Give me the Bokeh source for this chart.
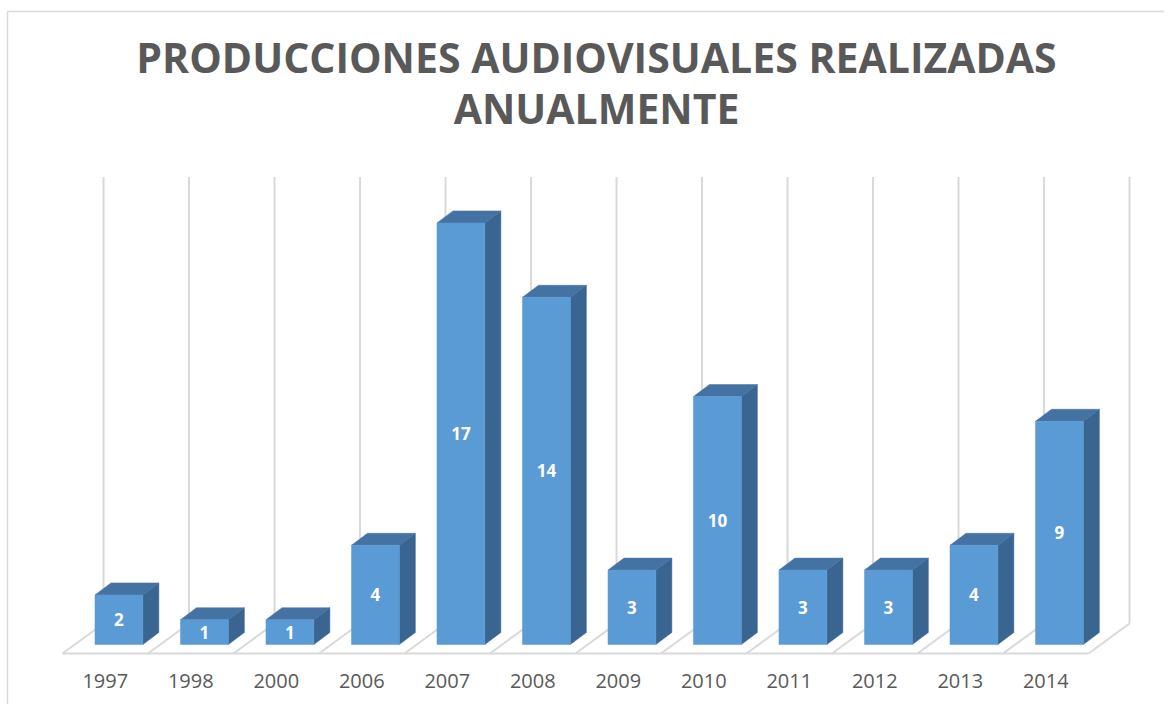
from bokeh.plotting import figure
from bokeh.models import ColumnDataSource, Label, Range1d
from bokeh.core.properties import value
from bokeh.embed import file_html
from bokeh.resources import INLINE

# ---- data ----
years = ["1997", "1998", "2000", "2006", "2007", "2008",
         "2009", "2010", "2011", "2012", "2013", "2014"]
counts = [2, 1, 1, 4, 17, 14, 3, 10, 3, 3, 4, 9]
axis_max = 18
title_lines = ["PRODUCCIONES AUDIOVISUALES REALIZADAS", "ANUALMENTE"]

# ---- 3D geometry (in data units: x = category, y = value) ----
BAR_LEFT, BAR_W = 0.38, 0.56
DX, DY = 0.187, 0.484          # bar depth offset
FDX, FDY = 0.48, 1.21          # floor depth offset
FLOOR_FRONT = -0.363
FLOOR_BACK = FLOOR_FRONT + FDY

FRONT = "#5B9BD5"
TOP = "#4472A2"
SIDE = "#3A6590"
GRID = "#D9D9D9"
TEXT = "#595959"

n = len(years)

p = figure(width=1164, height=704, output_backend="svg", toolbar_location=None,
           x_range=Range1d(-0.7251, 12.8889), y_range=Range1d(-2.419, 25.968),
           min_border=0, min_border_left=0, min_border_right=0,
           min_border_top=0, min_border_bottom=0)
p.axis.visible = False
p.grid.visible = False
p.outline_line_color = None
p.background_fill_color = "white"
p.border_fill_color = "white"

# chart border (left & top)
p.segment(x0=[-0.643, -0.643], y0=[25.52, 25.52], x1=[-0.643, 13.0], y1=[-2.5, 25.52],
          line_color=GRID, line_width=1.5)

# back wall verticals and floor lines
ks = list(range(n + 1))
p.segment(x0=[k + FDX for k in ks], y0=[FLOOR_BACK] * len(ks),
          x1=[k + FDX for k in ks], y1=[FLOOR_BACK + axis_max] * len(ks),
          line_color=GRID, line_width=2)
p.segment(x0=ks, y0=[FLOOR_FRONT] * len(ks),
          x1=[k + FDX for k in ks], y1=[FLOOR_BACK] * len(ks),
          line_color=GRID, line_width=2)
p.segment(x0=[0], y0=[FLOOR_FRONT], x1=[n], y1=[FLOOR_FRONT],
          line_color=GRID, line_width=2)

# bars
lefts = [i + BAR_LEFT for i in range(n)]
rights = [l + BAR_W for l in lefts]
src = ColumnDataSource(dict(left=lefts, right=rights, top=counts,
                            bottom=[0] * n,
                            cx=[(l + r) / 2 for l, r in zip(lefts, rights)],
                            cy=[v / 2 for v in counts],
                            lab=[str(v) for v in counts]))

top_xs = [[l, r, r + DX, l + DX] for l, r in zip(lefts, rights)]
top_ys = [[v, v, v + DY, v + DY] for v in counts]
side_xs = [[r, r + DX, r + DX, r] for r in rights]
side_ys = [[0, DY, v + DY, v] for v in counts]

p.patches(xs=side_xs, ys=side_ys, fill_color=SIDE, line_color=SIDE, line_width=0.5)
p.patches(xs=top_xs, ys=top_ys, fill_color=TOP, line_color=TOP, line_width=0.5)
p.quad(left="left", right="right", top="top", bottom="bottom", source=src,
       fill_color=FRONT, line_color=FRONT, line_width=0.5)

# value labels
p.text(x="cx", y="cy", text="lab", source=src, text_align="center",
       text_baseline="middle", text_color="white", text_font=value("Open Sans"),
       text_font_style="bold", text_font_size="17px")

# category labels
p.text(x=[i + 0.5 for i in range(n)], y=[-1.47] * n, text=years,
       text_align="center", text_baseline="middle", text_color=TEXT,
       text_font=value("Open Sans"), text_font_size="20px")

# title
for txt, yy in zip(title_lines, [23.68, 21.62]):
    p.add_layout(Label(x=6.246, y=yy, text=txt, text_align="center",
                       text_baseline="alphabetic", text_color=TEXT,
                       text_font="Open Sans", text_font_style="bold",
                       text_font_size="41px"))

open("out.html", "w").write(file_html(p, INLINE))
